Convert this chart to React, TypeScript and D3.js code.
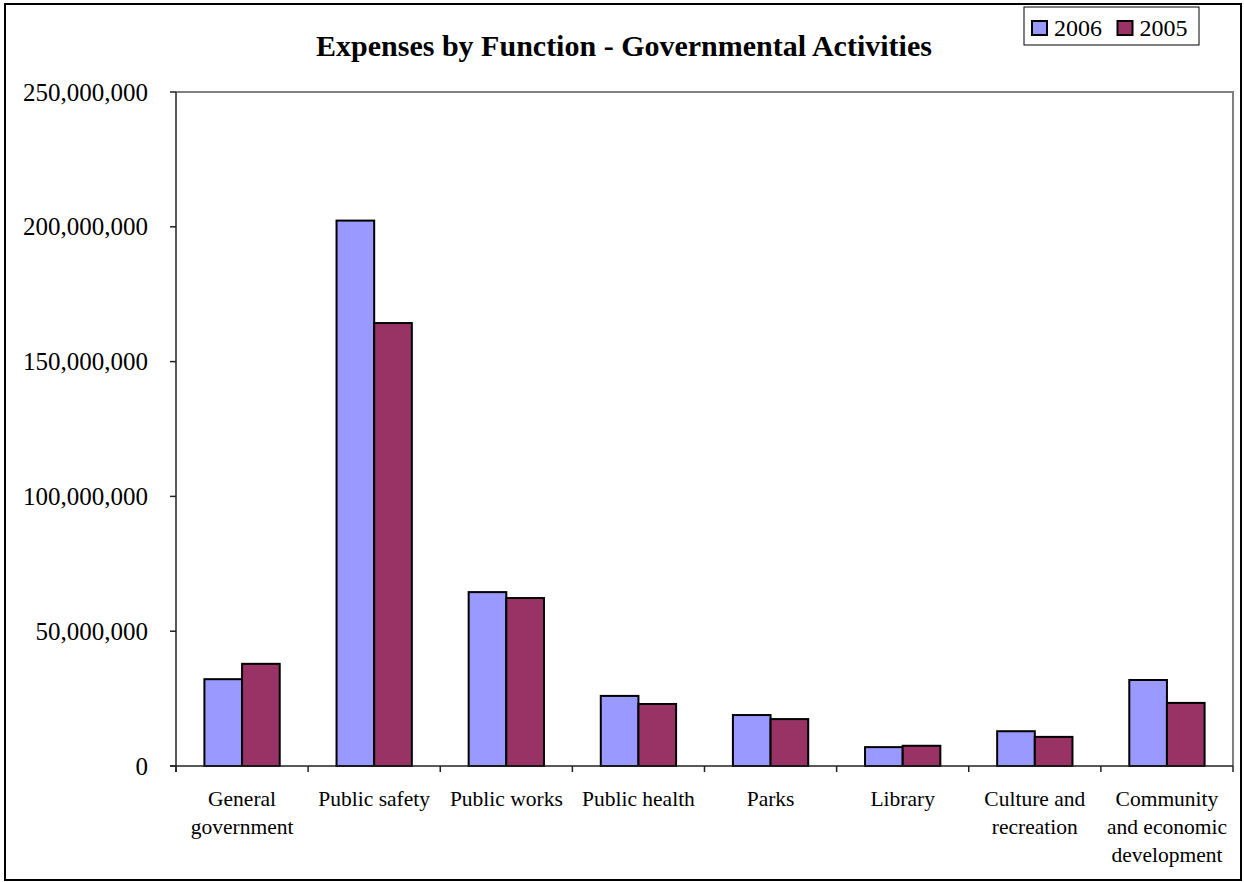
import React from "react";
import { scaleBand, scaleLinear, format } from "d3";

// Expenses by function (USD)
const categories = [
  ["General", "government"],
  ["Public safety"],
  ["Public works"],
  ["Public health"],
  ["Parks"],
  ["Library"],
  ["Culture and", "recreation"],
  ["Community", "and economic", "development"],
];
const values2006 = [32200000, 202300000, 64500000, 26000000, 18900000, 7000000, 12900000, 31900000];
const values2005 = [37900000, 164300000, 62300000, 23000000, 17400000, 7500000, 10800000, 23400000];
const seriesNames = ["2006", "2005"];
const seriesColors = ["#9999ff", "#993366"];
const yTicks = [0, 50000000, 100000000, 150000000, 200000000, 250000000];

const W = 1244;
const H = 882;
const plot = { left: 176, right: 1233, top: 92, bottom: 766 };
const FONT = "'Liberation Serif', 'Times New Roman', serif";

export default function App() {
  const keys = categories.map((c) => c.join(" "));
  const x = scaleBand().domain(keys).range([plot.left, plot.right]).padding(0);
  const groupGap = x.bandwidth() * 0.215;
  const xInner = scaleBand()
    .domain(seriesNames)
    .range([groupGap, x.bandwidth() - groupGap])
    .padding(0);
  const y = scaleLinear().domain([0, 250000000]).range([plot.bottom, plot.top]);
  const fmt = format(",");
  const series = [values2006, values2005];

  return (
    <svg
      width={W}
      height={H}
      style={{ position: "absolute", left: 0, top: 0, background: "#fff" }}
      fontFamily={FONT}
    >
      {/* outer frame */}
      <rect x={5} y={4} width={1236} height={876} fill="#fff" stroke="#000" strokeWidth={2} />

      {/* title */}
      <text x={624} y={56} textAnchor="middle" fontSize={30} fontWeight="bold">
        Expenses by Function - Governmental Activities
      </text>

      {/* plot area border (top/right gray) */}
      <polyline
        points={`${plot.left},${plot.top} ${plot.right},${plot.top} ${plot.right},${plot.bottom}`}
        fill="none"
        stroke="#808080"
        strokeWidth={2}
      />

      {/* bars */}
      {keys.map((k, i) => (
        <g key={k}>
          {series.map((vals, s) => (
            <rect
              key={s}
              x={x(k)! + xInner(seriesNames[s])!}
              y={y(vals[i])}
              width={xInner.bandwidth()}
              height={y(0) - y(vals[i])}
              fill={seriesColors[s]}
              stroke="#000"
              strokeWidth={2}
            />
          ))}
        </g>
      ))}

      {/* y axis */}
      <line x1={plot.left} x2={plot.left} y1={plot.top} y2={plot.bottom + 6} stroke="#222" strokeWidth={1.5} />
      {yTicks.map((t) => (
        <g key={t}>
          <line x1={plot.left - 6} x2={plot.left} y1={y(t)} y2={y(t)} stroke="#222" strokeWidth={1.5} />
          <text x={148} y={y(t)} dy="0.34em" textAnchor="end" fontSize={25}>
            {fmt(t)}
          </text>
        </g>
      ))}

      {/* x axis */}
      <line x1={plot.left - 6} x2={plot.right} y1={plot.bottom} y2={plot.bottom} stroke="#222" strokeWidth={1.5} />
      {keys.map((k) => (
        <line key={k} x1={x(k)!} x2={x(k)!} y1={plot.bottom} y2={plot.bottom + 6} stroke="#222" strokeWidth={1.5} />
      ))}
      <line x1={plot.right} x2={plot.right} y1={plot.bottom} y2={plot.bottom + 6} stroke="#222" strokeWidth={1.5} />
      {categories.map((lines, i) => (
        <text key={i} textAnchor="middle" fontSize={21.5}>
          {lines.map((ln, j) => (
            <tspan key={j} x={x(keys[i])! + x.bandwidth() / 2} y={806 + j * 28}>
              {ln}
            </tspan>
          ))}
        </text>
      ))}

      {/* legend */}
      <rect x={1024} y={7} width={175} height={38} fill="#fff" stroke="#000" strokeWidth={1} />
      {seriesNames.map((n, s) => (
        <g key={n} transform={`translate(${1032 + s * 85.5},21)`}>
          <rect width={15} height={14} fill={seriesColors[s]} stroke="#000" strokeWidth={2} />
          <text x={22} y={15} fontSize={24}>
            {n}
          </text>
        </g>
      ))}
    </svg>
  );
}
